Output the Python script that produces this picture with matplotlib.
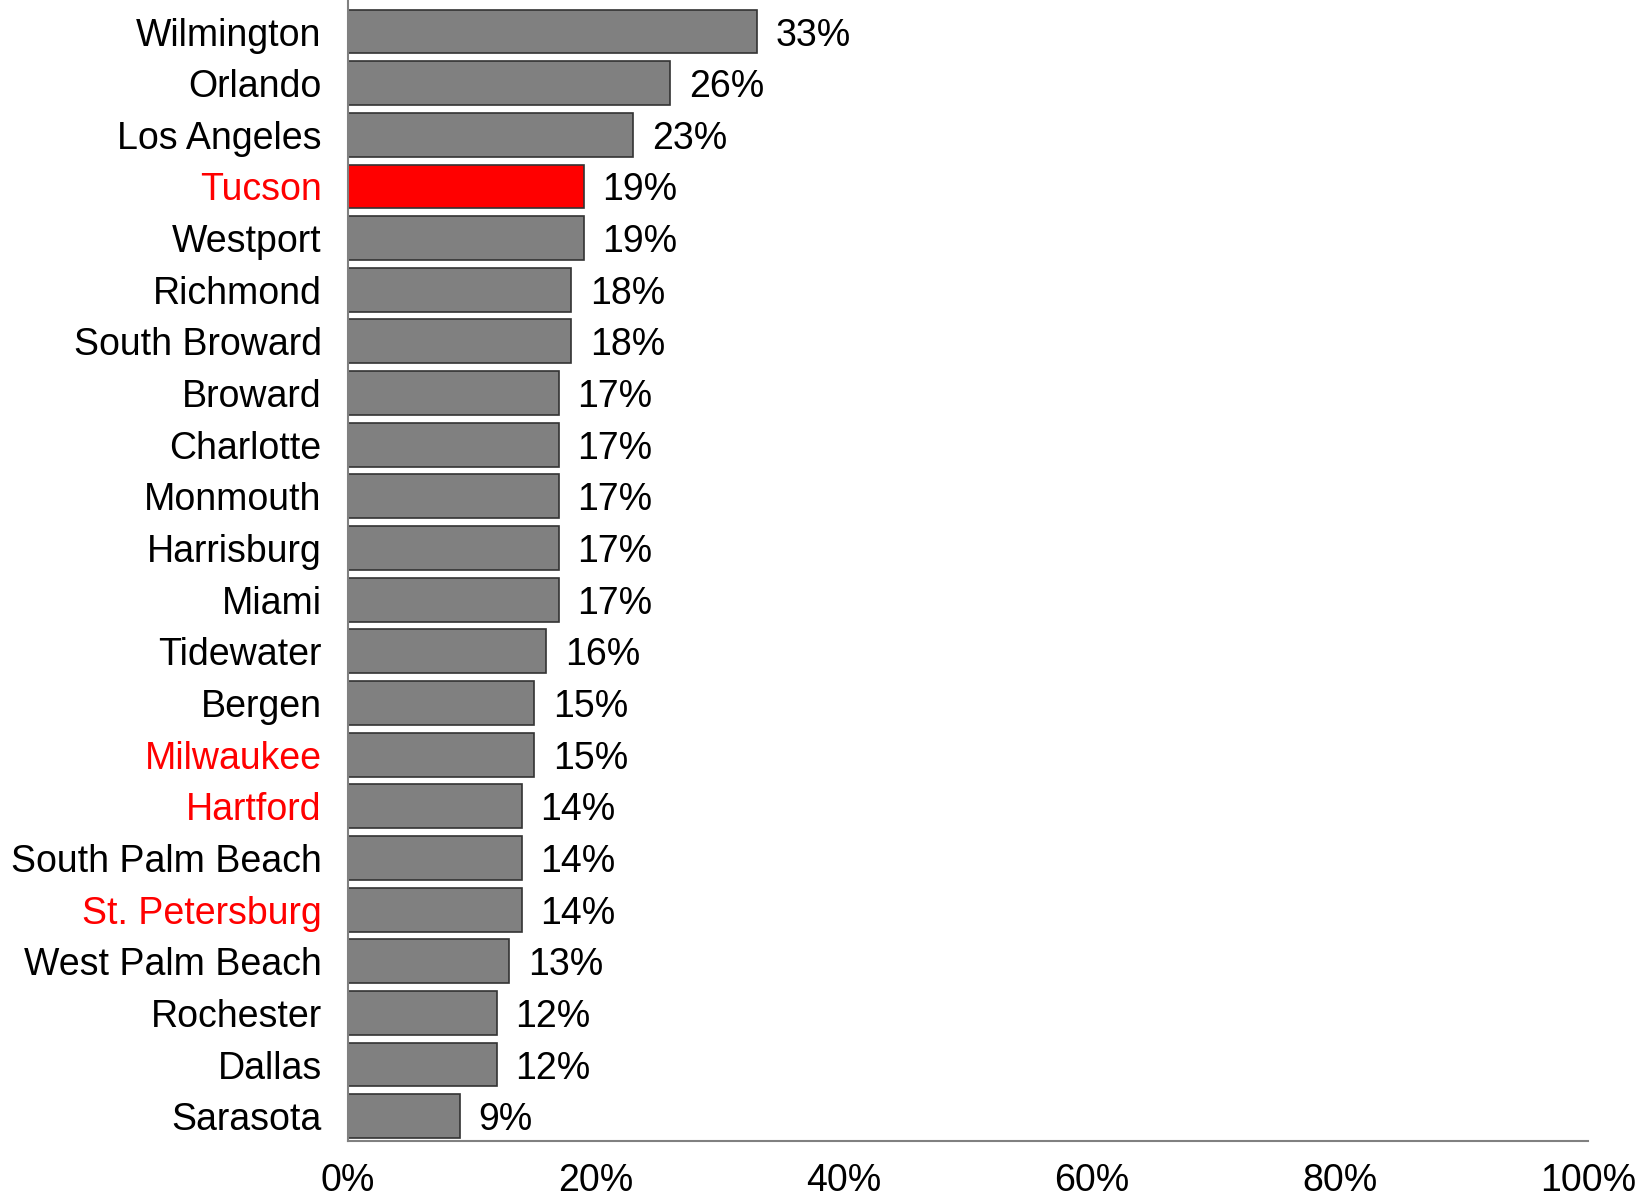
import matplotlib.pyplot as plt
from matplotlib.ticker import FuncFormatter

plt.rcParams['font.family'] = ['Liberation Sans', 'DejaVu Sans']

# data
cities = ["Wilmington", "Orlando", "Los Angeles", "Tucson", "Westport", "Richmond",
          "South Broward", "Broward", "Charlotte", "Monmouth", "Harrisburg", "Miami",
          "Tidewater", "Bergen", "Milwaukee", "Hartford", "South Palm Beach",
          "St. Petersburg", "West Palm Beach", "Rochester", "Dallas", "Sarasota"]
values = [33, 26, 23, 19, 19, 18, 18, 17, 17, 17, 17, 17, 16, 15, 15, 14, 14, 14, 13, 12, 12, 9]
red_labels = ["Tucson", "Milwaukee", "Hartford", "St. Petersburg"]
red_bars = ["Tucson"]

fig = plt.figure(figsize=(16.48, 11.99), dpi=100)
ax = fig.add_axes([0.2112, 0.0484, 0.7524, 0.9516])

colors = ['#ff0000' if c in red_bars else '#808080' for c in cities]
ypos = range(len(cities))
ax.barh(ypos, values, height=0.85, color=colors, edgecolor='#333333', linewidth=1.2)

for y, v in zip(ypos, values):
    ax.text(v + 1.5, y, f"{v}%", va='center_baseline', ha='left', fontsize=27)

ax.set_xlim(0, 100)
ax.set_ylim(21.48, -0.61)
ax.set_yticks(list(ypos))
ax.set_yticklabels(cities, fontsize=27, va='center_baseline')
for lbl in ax.get_yticklabels():
    if lbl.get_text() in red_labels:
        lbl.set_color('#ff0000')
ax.set_xticks([0, 20, 40, 60, 80, 100])
ax.xaxis.set_major_formatter(FuncFormatter(lambda x, p: f"{int(x)}%"))
ax.tick_params(axis='x', length=0, pad=16, labelsize=27)
ax.tick_params(axis='y', length=0, pad=19)

ax.spines['top'].set_visible(False)
ax.spines['right'].set_visible(False)
ax.spines['left'].set_color('#808080')
ax.spines['left'].set_linewidth(1.5)
ax.spines['bottom'].set_color('#808080')
ax.spines['bottom'].set_linewidth(1.5)

plt.savefig("out.png", dpi=100)
